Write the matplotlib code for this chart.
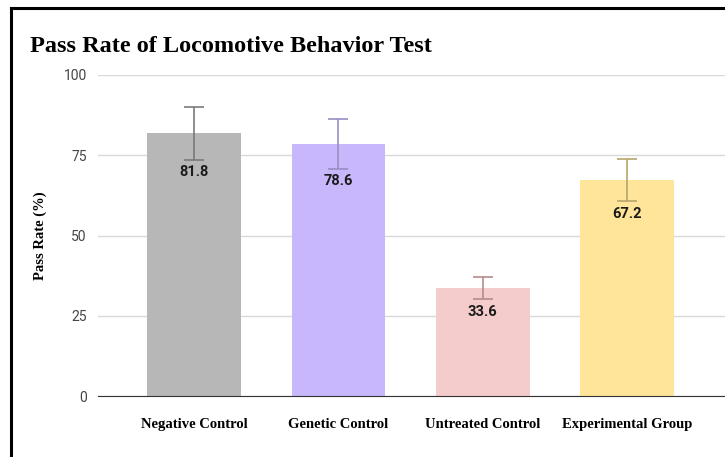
import matplotlib
matplotlib.use("Agg")
import matplotlib.pyplot as plt
from matplotlib.lines import Line2D

categories = ["Negative Control", "Genetic Control", "Untreated Control", "Experimental Group"]
pass_rate = [81.8, 78.6, 33.6, 67.2]
errors = [8.2, 7.8, 3.4, 6.6]
y_ticks = [0, 25, 50, 75, 100]

bar_colors = ["#b7b7b7", "#c8b7fb", "#f4cccc", "#ffe599"]
err_colors = ["#7a7a7a", "#9b8cc4", "#b58c8c", "#b7a56c"]

serif = ["Liberation Serif", "DejaVu Serif"]

fig = plt.figure(figsize=(7.25, 4.57), dpi=100)
ax = fig.add_axes([98 / 725, 1 - 396 / 457, 1 - 98 / 725, 321 / 457])

x = list(range(len(categories)))
ax.bar(x, pass_rate, width=0.65, color=bar_colors, zorder=2)
for i in x:
    ax.errorbar(i, pass_rate[i], yerr=errors[i], fmt="none", ecolor=err_colors[i],
                elinewidth=1.2, capsize=7, capthick=1.2, zorder=3)
    ax.annotate(f"{pass_rate[i]}", (i, pass_rate[i] - errors[i]), xytext=(0, -4),
                textcoords="offset points", ha="center", va="top",
                fontsize=10.5, fontweight="bold", family="Roboto", color="#1a1a1a", zorder=4)

ax.set_xlim(-0.667, 3.68)
ax.set_ylim(0, 100)
ax.set_yticks(y_ticks)
ax.set_yticklabels([str(t) for t in y_ticks], family="Roboto", fontsize=10, color="#444444")
ax.set_xticks(x)
ax.set_xticklabels(categories, family=serif, fontweight="bold", fontsize=10.5)
ax.tick_params(axis="y", length=0, pad=8)
ax.tick_params(axis="x", length=0, pad=16)
ax.grid(axis="y", color="#d9d9d9", linewidth=1, zorder=0)
for s in ["top", "right", "left"]:
    ax.spines[s].set_visible(False)
ax.spines["bottom"].set_color("#333333")
ax.spines["bottom"].set_zorder(3)

ax.set_ylabel("Pass Rate (%)", family=serif, fontweight="bold", fontsize=10.5, labelpad=12)

fig.text(30 / 725, 1 - 52 / 457, "Pass Rate of Locomotive Behavior Test", family=serif,
         fontweight="bold", fontsize=17.5, va="baseline", ha="left")

# black frame from the screenshot (left and top edges)
fig.add_artist(Line2D([11 / 725, 11 / 725], [0, 1 - 8 / 457], color="black", linewidth=2.2,
                      transform=fig.transFigure))
fig.add_artist(Line2D([11 / 725, 1], [1 - 8 / 457, 1 - 8 / 457], color="black", linewidth=2.2,
                      transform=fig.transFigure))

fig.savefig("out.png", dpi=100)
